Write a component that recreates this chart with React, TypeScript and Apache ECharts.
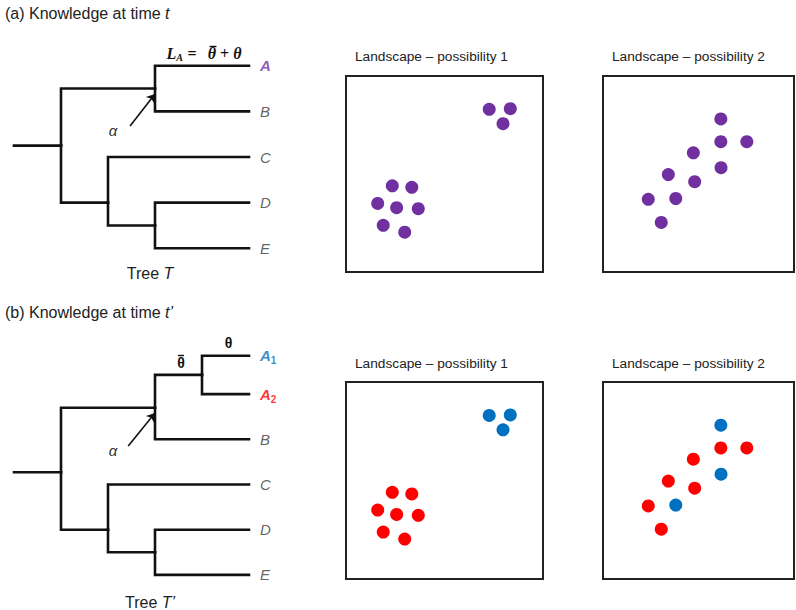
import React, { useEffect, useRef } from 'react';
import * as echarts from 'echarts';

const PURPLE = '#7030A0';
const BLUE = '#0070C0';
const RED = '#FF0000';
const SANS = '"Liberation Sans", Arial, sans-serif';
const SERIF = '"Liberation Serif", "DejaVu Serif", serif';

// Tree nodes: [id, parent, depth (branch units), row (leaf rows)]
const treeTNodes: [string, string | null, number, number][] = [
  ['root0', null, 0, 1.75],
  ['root', 'root0', 1, 1.75],
  ['AB', 'root', 3, 0.5],
  ['A', 'AB', 5, 0],
  ['B', 'AB', 5, 1],
  ['CDE', 'root', 2, 3],
  ['C', 'CDE', 5, 2],
  ['DE', 'CDE', 3, 3.5],
  ['D', 'DE', 5, 3],
  ['E', 'DE', 5, 4],
];
const treeTLeaves = ['A', 'B', 'C', 'D', 'E'];

const treeT2Nodes: [string, string | null, number, number][] = [
  ['root0', null, 0, 2.58],
  ['root', 'root0', 1, 2.58],
  ['AB', 'root', 3, 1.15],
  ['A12', 'AB', 4, 0.425],
  ['A1', 'A12', 5, 0],
  ['A2', 'A12', 5, 0.85],
  ['B', 'AB', 5, 1.85],
  ['CDE', 'root', 2, 3.85],
  ['C', 'CDE', 5, 2.85],
  ['DE', 'CDE', 3, 4.35],
  ['D', 'DE', 5, 3.85],
  ['E', 'DE', 5, 4.85],
];
const treeT2Leaves = ['A1', 'A2', 'B', 'C', 'D', 'E'];

// alpha arrows: [start, end] in tree units
const arrowT: [number, number][] = [[2.47, 1.32], [3.0, 0.62]];
const arrowT2: [number, number][] = [[2.43, 2.0], [3.0, 1.27]];

// Landscape points (x, y on 0-100 scales)
const landscape1Points: [number, number][] = [
  [72.7, 83.0], [83.4, 83.3], [79.7, 75.7],
  [23.5, 44.0], [33.4, 43.2], [16.1, 35.0], [25.7, 32.8], [36.7, 32.3], [18.9, 23.8], [29.8, 20.3],
];
const landscape1Groups = ['A1', 'A1', 'A1', 'A2', 'A2', 'A2', 'A2', 'A2', 'A2', 'A2'];

const landscape2Points: [number, number][] = [
  [61.7, 78.1], [61.7, 66.5], [75.3, 66.5], [47.3, 60.8], [61.8, 53.2],
  [34.2, 49.7], [48.0, 46.1], [23.7, 37.1], [38.1, 37.5], [30.5, 25.3],
];
const landscape2Groups = ['A1', 'A2', 'A2', 'A2', 'A1', 'A2', 'A2', 'A2', 'A1', 'A2'];

const groupColor: Record<string, string> = { A1: BLUE, A2: RED };

function treeSegments(nodes: [string, string | null, number, number][]) {
  const byId = new Map(nodes.map((n) => [n[0], n]));
  return nodes
    .filter((n) => n[1])
    .map((n) => {
      const p = byId.get(n[1] as string)!;
      return { coords: [[p[2], p[3]], [p[2], n[3]], [n[2], n[3]]] };
    });
}

function leafData(nodes: [string, string | null, number, number][], leaves: string[]) {
  const byId = new Map(nodes.map((n) => [n[0], n]));
  return leaves.map((name) => {
    const n = byId.get(name)!;
    return { name, value: [n[2], n[3]] };
  });
}

const leafRich = {
  n: { fontFamily: SANS, fontStyle: 'italic', fontSize: 15, color: '#3a3a3a', lineHeight: 20 },
  pa: { fontFamily: SANS, fontStyle: 'italic', fontWeight: 'bold', fontSize: 15, color: PURPLE, lineHeight: 20 },
  ba: { fontFamily: SANS, fontStyle: 'italic', fontWeight: 'bold', fontSize: 15, color: BLUE, lineHeight: 20 },
  bs: { fontFamily: SANS, fontWeight: 'bold', fontSize: 10, color: BLUE, lineHeight: 10, verticalAlign: 'bottom' },
  ra: { fontFamily: SANS, fontStyle: 'italic', fontWeight: 'bold', fontSize: 15, color: RED, lineHeight: 20 },
  rs: { fontFamily: SANS, fontWeight: 'bold', fontSize: 10, color: RED, lineHeight: 10, verticalAlign: 'bottom' },
};

function leafFormatter(purpleA: boolean) {
  return (p: any) => {
    const name = p.name as string;
    if (name === 'A' && purpleA) return '{pa|A}';
    if (name === 'A1') return '{ba|A}{bs|1}';
    if (name === 'A2') return '{ra|A}{rs|2}';
    return '{n|' + name + '}';
  };
}

function treeSeries(idx: number, nodes: any, leaves: string[], arrow: [number, number][], purpleA: boolean) {
  return [
    {
      type: 'lines',
      coordinateSystem: 'cartesian2d',
      xAxisIndex: idx,
      yAxisIndex: idx,
      polyline: true,
      silent: true,
      clip: false,
      symbol: 'none',
      data: treeSegments(nodes),
      lineStyle: { color: '#111', width: 2.6, opacity: 1, cap: 'square', join: 'miter', curveness: 0 },
    },
    {
      type: 'lines',
      coordinateSystem: 'cartesian2d',
      xAxisIndex: idx,
      yAxisIndex: idx,
      silent: true,
      clip: false,
      symbol: ['none', 'arrow'],
      symbolSize: 8,
      data: [{ coords: arrow }],
      lineStyle: { color: '#111', width: 1.6, opacity: 1, curveness: 0 },
    },
    {
      type: 'scatter',
      xAxisIndex: idx,
      yAxisIndex: idx,
      silent: true,
      clip: false,
      symbolSize: 0,
      data: leafData(nodes, leaves),
      label: { show: true, position: 'right', distance: 11, formatter: leafFormatter(purpleA), rich: leafRich },
    },
  ];
}

function dotSeries(idx: number, pts: [number, number][], colors: string[]) {
  return {
    type: 'scatter',
    xAxisIndex: idx,
    yAxisIndex: idx,
    silent: true,
    clip: false,
    symbol: 'circle',
    symbolSize: 13,
    data: pts.map((p, i) => ({ value: p, itemStyle: { color: colors[i], opacity: 1 } })),
  };
}

function text(x: number, y: number, t: string, rich: any, align = 'left') {
  return { type: 'text', x, y, silent: true, style: { text: t, rich, align, verticalAlign: 'middle' } };
}

function bar(x1: number, x2: number, y: number) {
  return { type: 'line', silent: true, shape: { x1, y1: y, x2, y2: y }, style: { stroke: '#111', lineWidth: 1.4 } };
}

const titleRich = {
  n: { fontFamily: SANS, fontSize: 16, fill: '#222', color: '#222' },
  i: { fontFamily: SANS, fontSize: 16, fontStyle: 'italic', fill: '#222', color: '#222' },
};
const landRich = { n: { fontFamily: SANS, fontSize: 13.7, fill: '#222', color: '#222' } };
const fBase = { fontFamily: SERIF, fontWeight: 'bold', fill: '#111', color: '#111' };
const formulaRich = {
  L: { ...fBase, fontSize: 16, fontStyle: 'italic' },
  s: { ...fBase, fontSize: 10, fontStyle: 'italic' },
  r: { ...fBase, fontSize: 16 },
  t: { ...fBase, fontSize: 16, fontStyle: 'italic' },
};
const thetaRich = { t: { fontFamily: SANS, fontSize: 14, fontWeight: 'bold', fill: '#111', color: '#111' } };
const alphaRich = { a: { fontFamily: SANS, fontSize: 15, fontStyle: 'italic', fill: '#333', color: '#333' } };

const hiddenAxis = (min: number, max: number, inverse = false) => ({
  type: 'value', min, max, inverse, show: false, splitLine: { show: false },
});

const boxGrid = { show: true, borderColor: '#222', borderWidth: 2, backgroundColor: 'transparent' };

const option: any = {
  animation: false,
  backgroundColor: '#fff',
  grid: [
    { left: 14, top: 65.7, width: 235, height: 182.6 },
    { left: 14, top: 355.7, width: 235, height: 219.2 },
    { left: 346, top: 76, width: 197, height: 196, ...boxGrid },
    { left: 603, top: 76, width: 191, height: 196, ...boxGrid },
    { left: 346, top: 382, width: 197, height: 197, ...boxGrid },
    { left: 603, top: 382, width: 191, height: 197, ...boxGrid },
  ],
  xAxis: [0, 1, 2, 3, 4, 5].map((i) => ({ gridIndex: i, ...(i < 2 ? hiddenAxis(0, 5) : hiddenAxis(0, 100)) })),
  yAxis: [
    { gridIndex: 0, ...hiddenAxis(0, 4, true) },
    { gridIndex: 1, ...hiddenAxis(0, 4.85, true) },
    { gridIndex: 2, ...hiddenAxis(0, 100) },
    { gridIndex: 3, ...hiddenAxis(0, 100) },
    { gridIndex: 4, ...hiddenAxis(0, 100) },
    { gridIndex: 5, ...hiddenAxis(0, 100) },
  ],
  series: [
    ...treeSeries(0, treeTNodes, treeTLeaves, arrowT, true),
    ...treeSeries(1, treeT2Nodes, treeT2Leaves, arrowT2, false),
    dotSeries(2, landscape1Points, landscape1Points.map(() => PURPLE)),
    dotSeries(3, landscape2Points, landscape2Points.map(() => PURPLE)),
    dotSeries(4, landscape1Points, landscape1Groups.map((g) => groupColor[g])),
    dotSeries(5, landscape2Points, landscape2Groups.map((g) => groupColor[g])),
  ],
  graphic: [
    text(5, 13, '{n|(a) Knowledge at time }{i|t}', titleRich),
    text(5, 312, '{n|(b) Knowledge at time }{i|t’}', titleRich),
    text(355, 56, '{n|Landscape – possibility 1}', landRich),
    text(612, 56, '{n|Landscape – possibility 2}', landRich),
    text(355, 363, '{n|Landscape – possibility 1}', landRich),
    text(612, 363, '{n|Landscape – possibility 2}', landRich),
    text(150, 273, '{n|Tree }{i|T}', titleRich, 'center'),
    text(150, 602, '{n|Tree }{i|T’}', titleRich, 'center'),
    // formula L_A = θ̄ + θ
    text(171.5, 53, '{L|L}', formulaRich, 'center'),
    text(179.5, 57, '{s|A}', formulaRich, 'center'),
    text(192, 53, '{r|=}', formulaRich, 'center'),
    text(212, 53.5, '{t|θ}', formulaRich, 'center'),
    bar(209.5, 216.5, 46.5),
    text(224.5, 53, '{r|+}', formulaRich, 'center'),
    text(237.5, 53.5, '{t|θ}', formulaRich, 'center'),
    // panel b branch labels
    text(181, 363, '{t|θ}', thetaRich, 'center'),
    bar(178, 184, 355.5),
    text(228.5, 343, '{t|θ}', thetaRich, 'center'),
    text(113, 130, '{a|α}', alphaRich, 'center'),
    text(113, 450, '{a|α}', alphaRich, 'center'),
  ],
};

export default function App() {
  const ref = useRef<HTMLDivElement>(null);
  useEffect(() => {
    const chart = echarts.init(ref.current!, null, { renderer: 'svg' });
    chart.setOption(option);
    return () => chart.dispose();
  }, []);
  return (
    <div
      ref={ref}
      style={{ position: 'fixed', left: 0, top: 0, width: 796, height: 610, background: '#fff' }}
    />
  );
}
